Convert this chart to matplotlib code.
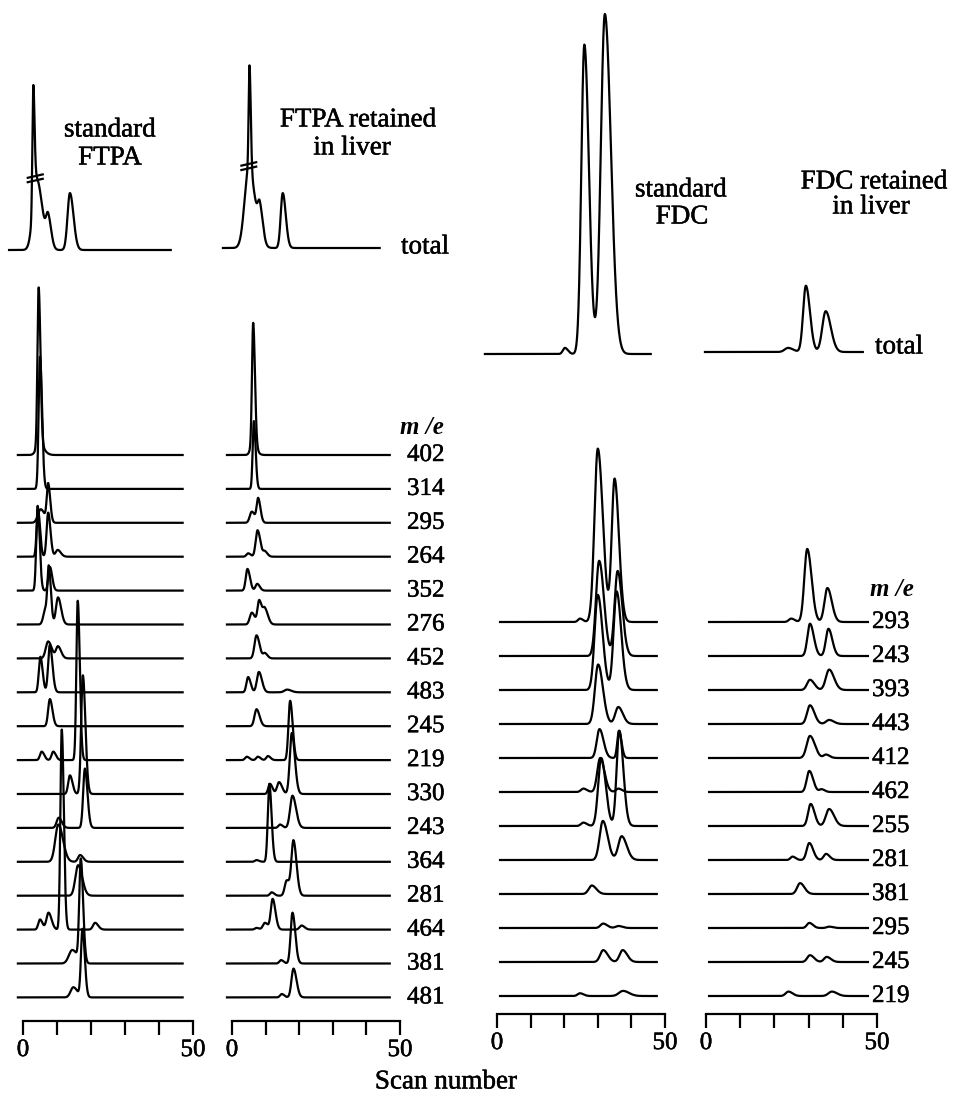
import numpy as np
import matplotlib.pyplot as plt
import matplotlib.patheffects as pe

plt.rcParams['font.family'] = ['Liberation Serif', 'DejaVu Serif']

# mass chromatograms: each peak is (scan number, height, width)
# heights are in units of the spacing between two traces
FTPA_MZ = [402, 314, 295, 264, 352, 276, 452, 483, 245, 219, 330, 243, 364, 281, 464, 381, 481]
FDC_MZ = [293, 243, 393, 443, 412, 462, 255, 281, 381, 295, 245, 219]

FTPA_STD_TOTAL = [(4.0, 2.1, 1.1), (3.0, 3.45, 0.25), (7.4, 0.85, 0.6), (13.8, 1.68, 0.7)]
FTPA_STD_BREAK = (3.6, 2.05)
FTPA_STD_PEAKS = [
    [(4.6, 4.65, 0.35), (4.8, 0.3, 0.9)],
    [(5.0, 3.9, 0.4)],
    [(5.2, 0.4, 0.8), (7.4, 1.1, 0.4)],
    [(4.4, 1.4, 0.4), (7.4, 1.3, 0.45), (10.2, 0.2, 0.6)],
    [(4.3, 2.5, 0.4), (7.9, 0.7, 0.45)],
    [(6.6, 0.45, 0.6), (7.6, 1.5, 0.4), (10.3, 0.8, 0.6)],
    [(7.4, 0.5, 0.7), (10.3, 0.35, 0.6)],
    [(5.1, 1.05, 0.45), (7.9, 1.4, 0.5)],
    [(7.9, 0.8, 0.5)],
    [(5.5, 0.25, 0.5), (8.9, 0.25, 0.5), (16.1, 4.7, 0.4)],
    [(13.8, 0.55, 0.5), (17.6, 3.5, 0.5)],
    [(10.5, 0.3, 0.6), (18.2, 1.75, 0.5)],
    [(10.4, 1.1, 0.9), (16.8, 0.2, 0.6)],
    [(16.2, 0.9, 0.8)],
    [(5.0, 0.3, 0.5), (7.5, 0.5, 0.6), (11.4, 5.9, 0.4), (21.2, 0.2, 0.6)],
    [(14.5, 0.4, 1.0), (17.0, 3.0, 0.45)],
    [(14.8, 0.3, 0.8), (17.5, 2.0, 0.45)],
]

FTPA_LIV_TOTAL = [(5.0, 2.35, 1.25), (5.2, 3.05, 0.25), (8.3, 0.88, 0.6), (15.1, 1.62, 0.6)]
FTPA_LIV_BREAK = (5.0, 2.35)
FTPA_LIV_PEAKS = [
    [(6.3, 3.6, 0.35), (6.2, 0.3, 0.7)],
    [(6.5, 2.0, 0.35)],
    [(5.9, 0.33, 0.6), (7.8, 0.7, 0.45)],
    [(4.8, 0.1, 0.5), (7.6, 0.78, 0.55), (9.8, 0.15, 0.5)],
    [(4.6, 0.64, 0.5), (7.5, 0.2, 0.5)],
    [(5.9, 0.35, 0.6), (8.1, 0.7, 0.5), (9.8, 0.45, 0.6)],
    [(7.3, 0.68, 0.6), (9.8, 0.15, 0.5)],
    [(4.8, 0.45, 0.5), (8.0, 0.6, 0.6), (16.4, 0.08, 0.8)],
    [(7.3, 0.5, 0.6)],
    [(4.4, 0.1, 0.5), (7.7, 0.1, 0.5), (10.7, 0.12, 0.5), (17.3, 1.75, 0.5)],
    [(11.3, 0.3, 0.5), (14.0, 0.35, 0.6), (17.8, 1.8, 0.6)],
    [(14.3, 0.1, 0.5), (18.0, 0.95, 0.7)],
    [(7.3, 0.05, 0.5), (11.1, 2.3, 0.45)],
    [(11.8, 0.1, 0.5), (16.3, 0.45, 0.6), (18.3, 1.6, 0.6)],
    [(7.3, 0.05, 0.5), (9.8, 0.2, 0.6), (12.1, 0.9, 0.55), (20.7, 0.12, 0.6)],
    [(14.6, 0.1, 0.5), (18.0, 1.5, 0.55)],
    [(14.8, 0.1, 0.5), (18.3, 0.85, 0.6)],
]

FDC_STD_TOTAL = [(20.2, 0.18, 0.6), (26.0, 9.1, 0.9), (32.1, 10.0, 1.2)]
FDC_STD_PEAKS = [
    [(24.7, 0.1, 0.6), (30.0, 5.1, 1.0), (35.0, 4.2, 0.85)],
    [(30.4, 2.8, 0.95), (35.9, 2.5, 0.9)],
    [(30.0, 2.8, 0.95), (35.6, 2.9, 0.9)],
    [(30.1, 1.75, 0.95), (36.1, 0.5, 0.9)],
    [(30.5, 0.85, 0.8), (36.3, 0.8, 0.5)],
    [(25.7, 0.1, 0.7), (30.7, 1.0, 0.85), (36.1, 0.1, 0.7)],
    [(25.7, 0.1, 0.7), (31.0, 2.0, 0.9), (36.4, 2.8, 0.8)],
    [(31.5, 1.15, 0.95), (37.1, 0.7, 1.0)],
    [(28.2, 0.25, 0.9)],
    [(31.6, 0.13, 0.8), (36.1, 0.06, 0.8)],
    [(31.6, 0.35, 0.9), (37.4, 0.35, 0.9)],
    [(24.7, 0.08, 0.7), (37.5, 0.15, 1.2)],
]

FDC_LIV_TOTAL = [(24.0, 0.12, 1.0), (29.2, 1.95, 0.8), (35.0, 1.2, 1.0)]
FDC_LIV_PEAKS = [
    [(24.9, 0.1, 0.7), (29.6, 2.15, 0.85), (35.5, 1.0, 0.85)],
    [(30.4, 0.95, 0.75), (35.8, 0.8, 0.75)],
    [(30.4, 0.3, 0.85), (36.0, 0.6, 0.95)],
    [(30.4, 0.55, 0.85), (36.0, 0.12, 0.9)],
    [(30.4, 0.65, 0.95), (35.1, 0.1, 0.7)],
    [(30.2, 0.62, 0.75), (33.8, 0.08, 0.6)],
    [(30.6, 0.65, 0.75), (36.0, 0.5, 0.95)],
    [(25.3, 0.1, 0.6), (30.2, 0.5, 0.75), (35.1, 0.18, 0.7)],
    [(27.5, 0.32, 0.85)],
    [(30.2, 0.15, 0.7), (36.0, 0.04, 0.7)],
    [(30.4, 0.2, 0.8), (35.3, 0.15, 0.8)],
    [(24.1, 0.13, 0.8), (36.8, 0.13, 1.0)],
]

W, H = 959, 1094
TAIL = 1.5
LW = 1.6
INK = [pe.withStroke(linewidth=0.35, foreground='black')]  # slightly heavier print


def signal(x, peaks):
    y = np.zeros_like(x)
    for c, h, w in peaks:
        s = np.where(x < c, w, w * TAIL)
        y += h * np.exp(-0.5 * ((x - c) / s) ** 2)
    return y


fig = plt.figure(figsize=(W / 100, H / 100), dpi=100)


def panel(x0, x50, row0, step, axis_px):
    # axes whose x is the scan number and whose y counts trace rows
    pps = (x50 - x0) / 50
    lo, hi = -8, 58
    ax = fig.add_axes([(x0 + lo * pps) / W, 0, (hi - lo) * pps / W, 1])
    ax.set_xlim(lo, hi)
    ax.set_ylim((row0 - H) / step, row0 / step)
    ax.patch.set_visible(False)
    for s in ['left', 'right', 'top']:
        ax.spines[s].set_visible(False)
    ax.set_yticks([])
    ax.spines['bottom'].set_position(('data', (row0 - axis_px) / step))
    ax.spines['bottom'].set_bounds(0, 50)
    ax.spines['bottom'].set_linewidth(LW)
    ax.set_xticks(range(0, 51, 10))
    ax.set_xticklabels(['0', '', '', '', '', '50'])
    ax.tick_params(axis='x', direction='out', length=10, width=LW, pad=3, labelsize=18)
    for lab in ax.get_xticklabels():
        lab.set_path_effects(INK)
    ax.px = lambda p: (p - x0) / pps
    ax.py = lambda p: (row0 - p) / step
    return ax


def draw_rows(ax, rows, start, end):
    x = np.arange(start, end, 0.05)
    for k, peaks in enumerate(rows):
        ax.plot(x, signal(x, peaks) - k, color='black', lw=LW, solid_joinstyle='round')


def draw_total(ax, peaks, base_px, start, end, brk=None):
    x = np.arange(start, end, 0.05)
    b = ax.py(base_px)
    ax.plot(x, signal(x, peaks) + b, color='black', lw=LW)
    if brk is not None:
        c, h = brk
        for d in (0.0, 0.13):
            ax.plot([c - 2.2, c + 2.2], [b + h + d - 0.05, b + h + d + 0.05], color='black', lw=LW)


ax1 = panel(23, 193, 455, 33.9, 1021)
ax2 = panel(232, 400, 455, 33.9, 1021)
ax3 = panel(497, 665, 622, 34.0, 1014)
ax4 = panel(706, 877, 622, 34.0, 1014)

draw_total(ax1, FTPA_STD_TOTAL, 250, -4.1, 43.5, FTPA_STD_BREAK)
draw_total(ax2, FTPA_LIV_TOTAL, 248, -2.7, 44.0, FTPA_LIV_BREAK)
draw_total(ax3, FDC_STD_TOTAL, 354, -3.6, 45.8)
draw_total(ax4, FDC_LIV_TOTAL, 352, -0.3, 45.9)

draw_rows(ax1, FTPA_STD_PEAKS, -1.5, 47.0)
draw_rows(ax2, FTPA_LIV_PEAKS, -1.5, 47.0)
draw_rows(ax3, FDC_STD_PEAKS, 0.9, 47.6)
draw_rows(ax4, FDC_LIV_PEAKS, 0.9, 47.4)

fs = 18
ft = 19.5
kw = dict(va='center', path_effects=INK)
for k, mz in enumerate(FTPA_MZ):
    ax2.text(ax2.px(407), -k, str(mz), ha='left', fontsize=fs, **kw)
for k, mz in enumerate(FDC_MZ):
    ax4.text(ax4.px(872), -k, str(mz), ha='left', fontsize=fs, **kw)
ax2.text(ax2.px(422), ax2.py(427), 'm /e', ha='center', fontsize=fs, style='italic', weight='bold', va='center')
ax4.text(ax4.px(892), ax4.py(590), 'm /e', ha='center', fontsize=fs, style='italic', weight='bold', va='center')
ax2.text(ax2.px(401), ax2.py(247), 'total', ha='left', fontsize=ft, **kw)
ax4.text(ax4.px(875), ax4.py(347), 'total', ha='left', fontsize=ft, **kw)

titles = [
    (ax1, 110, 130, 'standard'), (ax1, 110, 158, 'FTPA'),
    (ax2, 358, 120, 'FTPA retained'), (ax2, 352, 148, 'in liver'),
    (ax3, 681, 190, 'standard'), (ax3, 682, 217, 'FDC'),
    (ax4, 874, 182, 'FDC retained'), (ax4, 871, 207, 'in liver'),
]
for ax, px, py, t in titles:
    ax.text(ax.px(px), ax.py(py), t, ha='center', fontsize=ft, **kw)

fig.text(446 / W, 1 - 1082 / H, 'Scan number', ha='center', fontsize=ft, **kw)

fig.savefig('out.png', dpi=100)
